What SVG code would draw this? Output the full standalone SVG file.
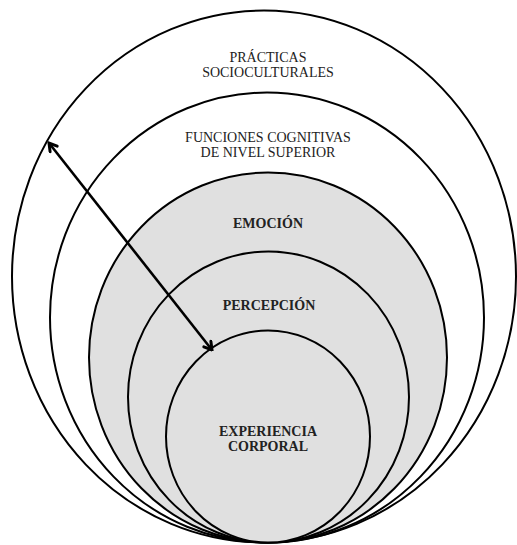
<svg xmlns="http://www.w3.org/2000/svg" width="517" height="545" viewBox="0 0 517 545">
<style>
.ring{stroke:#000;stroke-width:2;}
.w{fill:#fff;}
.g{fill:#e0e0e0;}
.lbl{font-family:"Liberation Serif","Times New Roman",serif;font-size:14px;fill:#222;text-anchor:middle;}
.b{font-weight:bold;}
.conn{stroke:#000;stroke-width:2.6;fill:none;}
</style>
<defs>
<marker id="ah" viewBox="0 0 12 12" refX="10.5" refY="6" markerWidth="12" markerHeight="12" markerUnits="userSpaceOnUse" orient="auto-start-reverse">
<path d="M3,1.5 L10.5,6 L3,10.5" fill="none" stroke="#000" stroke-width="3" stroke-linecap="round" stroke-linejoin="miter"/>
</marker>
</defs>
<rect width="517" height="545" fill="#fff"/>
<g id="practicas">
<ellipse class="ring w" cx="264" cy="276.5" rx="252" ry="266"/>
<text class="lbl" x="268" y="62">PRÁCTICAS</text>
<text class="lbl" x="268" y="77">SOCIOCULTURALES</text>
</g>
<g id="funciones">
<ellipse class="ring w" cx="267" cy="317.5" rx="217" ry="225"/>
<text class="lbl" x="268" y="142">FUNCIONES COGNITIVAS</text>
<text class="lbl" x="268" y="157">DE NIVEL SUPERIOR</text>
</g>
<g id="emocion">
<ellipse class="ring g" cx="268" cy="357.5" rx="179" ry="185"/>
<text class="lbl b" x="268" y="228">EMOCIÓN</text>
</g>
<g id="percepcion">
<ellipse class="ring g" cx="268.5" cy="397" rx="140.5" ry="145.5"/>
<text class="lbl b" x="269" y="310">PERCEPCIÓN</text>
</g>
<g id="experiencia">
<ellipse class="ring g" cx="268" cy="436.5" rx="102" ry="106"/>
<text class="lbl b" x="268" y="436">EXPERIENCIA</text>
<text class="lbl b" x="268" y="451">CORPORAL</text>
</g>
<g id="connectors">
<line class="conn" x1="49" y1="143" x2="212" y2="350" marker-start="url(#ah)" marker-end="url(#ah)"/>
</g>
</svg>
